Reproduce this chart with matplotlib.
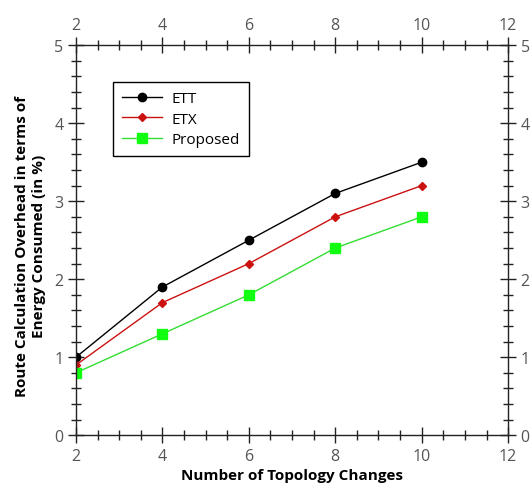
import numpy as np
import matplotlib
matplotlib.use("Agg")
import matplotlib.pyplot as plt
from matplotlib.ticker import MultipleLocator

changes = [2, 4, 6, 8, 10]
ett = [1.0, 1.9, 2.5, 3.1, 3.5]
etx = [0.9, 1.7, 2.2, 2.8, 3.2]
proposed = [0.8, 1.3, 1.8, 2.4, 2.8]

plt.rcParams['font.family'] = ['Open Sans', 'DejaVu Sans']

fig = plt.figure(figsize=(5.31, 5.02), dpi=100)
ax = fig.add_axes([0.143, 0.131, 0.814, 0.777])

ax.plot(changes, ett, color='black', linewidth=1.0, marker='o', markersize=6, label='ETT')
ax.plot(changes, etx, color='#cc1111', linewidth=1.0, marker='D', markersize=4, label='ETX')
ax.plot(changes, proposed, color='#33dd33', linewidth=1.0, marker='s', markersize=6.5,
        markerfacecolor='#11ff11', markeredgecolor='#11ff11', label='Proposed')

ax.set_xlim(2, 12)
ax.set_ylim(0, 5)
ax.xaxis.set_major_locator(MultipleLocator(2))
ax.xaxis.set_minor_locator(MultipleLocator(0.5))
ax.yaxis.set_major_locator(MultipleLocator(1))
ax.yaxis.set_minor_locator(MultipleLocator(0.2))
ax.tick_params(which='both', direction='inout', top=True, right=True,
               labeltop=True, labelright=True, colors='#222222',
               labelcolor='#555555', labelsize=11.5, width=1.0)
ax.tick_params(which='major', length=11)
ax.tick_params(which='minor', length=7)
for s in ax.spines.values():
    s.set_color('#222222')
    s.set_linewidth(1.0)

ax.set_xlabel('Number of Topology Changes', fontsize=11, fontweight='bold', labelpad=3)
# two-line y label, each line centred
fig.text(0.058, 0.51, 'Route Calculation Overhead in terms of\nEnergy Consumed (in %)',
         rotation=90, ha='center', va='center', multialignment='center',
         fontsize=11, fontweight='bold', linespacing=1.25)

leg = ax.legend(loc='upper left', bbox_to_anchor=(0.068, 0.925), fontsize=11,
                fancybox=False, framealpha=1, edgecolor='black', handlelength=2.6,
                borderpad=0.6, labelspacing=0.35, handletextpad=0.6)
leg.get_frame().set_linewidth(1.0)

fig.savefig('out.png', dpi=100)
